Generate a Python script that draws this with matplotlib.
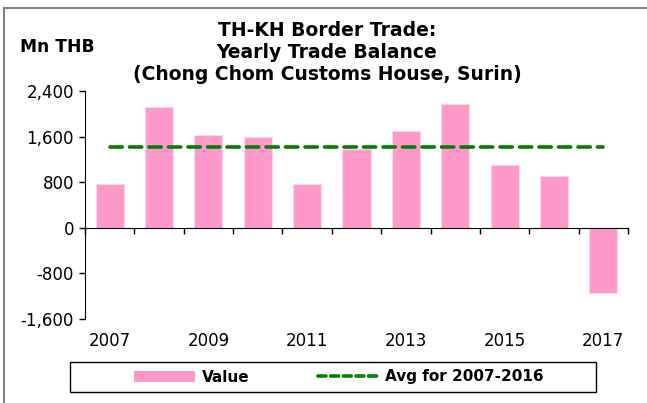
import matplotlib.pyplot as plt
from matplotlib.patches import Rectangle, Patch
from matplotlib.lines import Line2D
from matplotlib.ticker import FuncFormatter

plt.rcParams['font.family'] = ['DejaVu Sans']

# yearly trade balance, Mn THB
years = [2007, 2008, 2009, 2010, 2011, 2012, 2013, 2014, 2015, 2016, 2017]
values = [760, 2125, 1630, 1590, 775, 1385, 1705, 2175, 1105, 910, -1150]
avg_years = years[:10]
avg_value = sum(values[:10]) / len(avg_years)

pink = '#FF99CC'
green = '#008000'

fig = plt.figure(figsize=(6.47, 4.03), dpi=100)
ax = fig.add_axes([85 / 647, 84 / 403, 543 / 647, 228 / 403])

x = list(range(len(years)))
ax.bar(x, values, width=0.57, color=pink, edgecolor='#FFD6EA', linewidth=0.8, zorder=2)
ax.plot(x, [avg_value] * len(x), color=green, lw=2.6, dashes=(3.4, 2.0),
        dash_capstyle='round', zorder=3)

ax.set_xlim(-0.5, len(years) - 0.5)
ax.set_ylim(-1600, 2400)
ax.set_yticks([-1600, -800, 0, 800, 1600, 2400])
ax.yaxis.set_major_formatter(FuncFormatter(lambda v, p: f"{v:,.0f}"))
ax.tick_params(axis='y', direction='out', length=4, width=1, labelsize=12, pad=4)

# category axis sits on zero, ticks between bars
ax.spines['bottom'].set_position(('data', 0))
ax.spines['top'].set_visible(False)
ax.spines['right'].set_visible(False)
ax.set_xticks([i - 0.5 for i in range(len(years) + 1)])
ax.tick_params(axis='x', direction='out', length=4, width=1, labelbottom=False)

for i, yr in enumerate(years):
    if i % 2 == 0:
        ax.text(i, -0.095, str(yr), transform=ax.get_xaxis_transform(),
                ha='center', va='center', fontsize=12)

title_lines = ["TH-KH Border Trade:", "Yearly Trade Balance",
               "(Chong Chom Customs House, Surin)"]
for line, ypx in zip(title_lines, [30, 52, 75]):
    fig.text(327 / 647, 1 - ypx / 403, line, ha='center', va='center',
             fontsize=13.5, fontweight='bold')
fig.text(57 / 647, 1 - 47 / 403, "Mn THB", ha='center', va='center',
         fontsize=12.3, fontweight='bold')

# legend with its own box
fig.add_artist(Rectangle((70 / 647, 1 - 392 / 403), 526 / 647, 30 / 403,
                         transform=fig.transFigure, fill=False, ec='black', lw=1))
handles = [Patch(facecolor=pink, edgecolor='none'),
           Line2D([0], [0], color=green, lw=2.6, dashes=(2.2, 1.3), dash_capstyle='round')]
leg = fig.legend(handles, ['Value', 'Avg for 2007-2016'], loc='center',
                 bbox_to_anchor=(339 / 647, 1 - 377 / 403), ncol=2, frameon=False,
                 handlelength=4.0, columnspacing=4.5, handletextpad=0.4,
                 prop={'weight': 'bold', 'size': 11})

# outer chart border
fig.add_artist(Rectangle((4 / 647, -0.1), 1.1, 1 - 8 / 403 + 0.1,
                         transform=fig.transFigure, fill=False, ec='#808080', lw=1.5))

fig.savefig('out.png', dpi=100)
